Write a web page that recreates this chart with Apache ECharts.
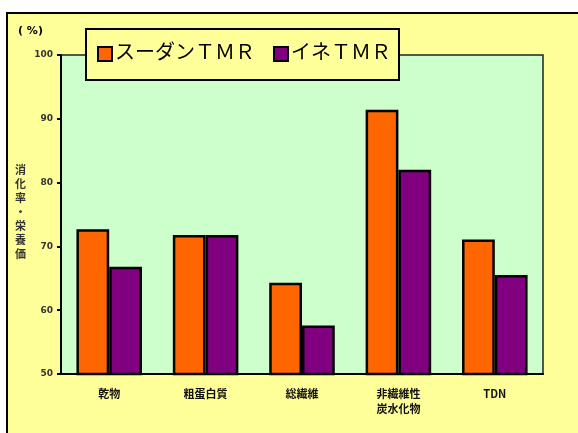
<!DOCTYPE html>
<html>
<head>
<meta charset="utf-8">
<script src="https://cdn.jsdelivr.net/npm/echarts@6/dist/echarts.min.js"></script>
<style>
  html, body { margin: 0; padding: 0; background: #fff; }
  #chart { width: 578px; height: 433px; }
</style>
</head>
<body>
<div id="chart"></div>
<script>
// categories and values
const categories = ['乾物', '粗蛋白質', '総繊維', '非繊維性\n炭水化物', 'TDN'];
const sudanTMR = [72.7, 71.8, 64.3, 91.4, 71.1];
const ineTMR = [66.8, 71.8, 57.6, 82.0, 65.5];
const seriesNames = ['スーダンＴＭＲ', 'イネＴＭＲ'];
const yTicks = { min: 50, max: 100, interval: 10 };

const chart = echarts.init(document.getElementById('chart'));

const barStyle = (color) => ({
    color: color,
    borderColor: '#000',
    borderWidth: 2.5
});

const option = {
    backgroundColor: '#fff',
    animation: false,
    graphic: [
        {
            type: 'rect',
            z: -10,
            shape: { x: 7, y: 13, width: 620, height: 460 },
            style: { fill: '#FFFF99', stroke: '#000', lineWidth: 2 }
        },
        {
            type: 'text',
            left: 18,
            top: 26,
            style: { text: '( %)', font: 'bold 11px "DejaVu Sans", sans-serif', fill: '#000' }
        },
        {
            type: 'text',
            left: 15,
            top: 163,
            style: {
                text: '消\n化\n率\n・\n栄\n養\n価',
                font: 'bold 11px "Noto Sans CJK JP", sans-serif',
                lineHeight: 14,
                fill: '#333'
            }
        }
    ],
    legend: {
        left: 86,
        top: 29,
        padding: [15, 8, 16, 11],
        itemGap: 18,
        itemWidth: 14,
        itemHeight: 14,
        icon: 'rect',
        backgroundColor: '#FFFF99',
        borderColor: '#000',
        borderWidth: 2,
        textStyle: {
            fontSize: 20,
            fontFamily: '"Liberation Serif", "Noto Sans CJK JP", serif',
            color: '#000',
            padding: [0, 0, 0, -2]
        },
        data: seriesNames
    },
    grid: {
        left: 61,
        right: 35,
        top: 55,
        bottom: 59,
        show: true,
        backgroundColor: '#CCFFCC',
        borderColor: '#222',
        borderWidth: 1.5
    },
    xAxis: {
        type: 'category',
        data: categories,
        axisLine: { lineStyle: { color: '#000', width: 2 } },
        axisTick: { inside: true, length: 2, lineStyle: { color: '#000' } },
        axisLabel: {
            color: '#111',
            fontSize: 11,
            margin: 12,
            lineHeight: 15,
            fontWeight: 'bold',
            fontFamily: '"Noto Sans CJK JP", sans-serif'
        }
    },
    yAxis: {
        type: 'value',
        min: yTicks.min,
        max: yTicks.max,
        interval: yTicks.interval,
        splitLine: { show: false },
        axisLine: { show: true, lineStyle: { color: '#000', width: 2 } },
        axisTick: { show: true, length: 4, lineStyle: { color: '#000', width: 2 } },
        axisLabel: {
            color: '#333',
            fontSize: 9,
            margin: 8,
            fontWeight: 'bold',
            fontFamily: '"DejaVu Sans", sans-serif'
        }
    },
    series: [
        {
            name: seriesNames[0],
            type: 'bar',
            data: sudanTMR,
            barGap: '0%',
            barCategoryGap: '32%',
            itemStyle: barStyle('#FF6600')
        },
        {
            name: seriesNames[1],
            type: 'bar',
            data: ineTMR,
            itemStyle: barStyle('#800080')
        }
    ]
};

chart.setOption(option);
</script>
</body>
</html>
